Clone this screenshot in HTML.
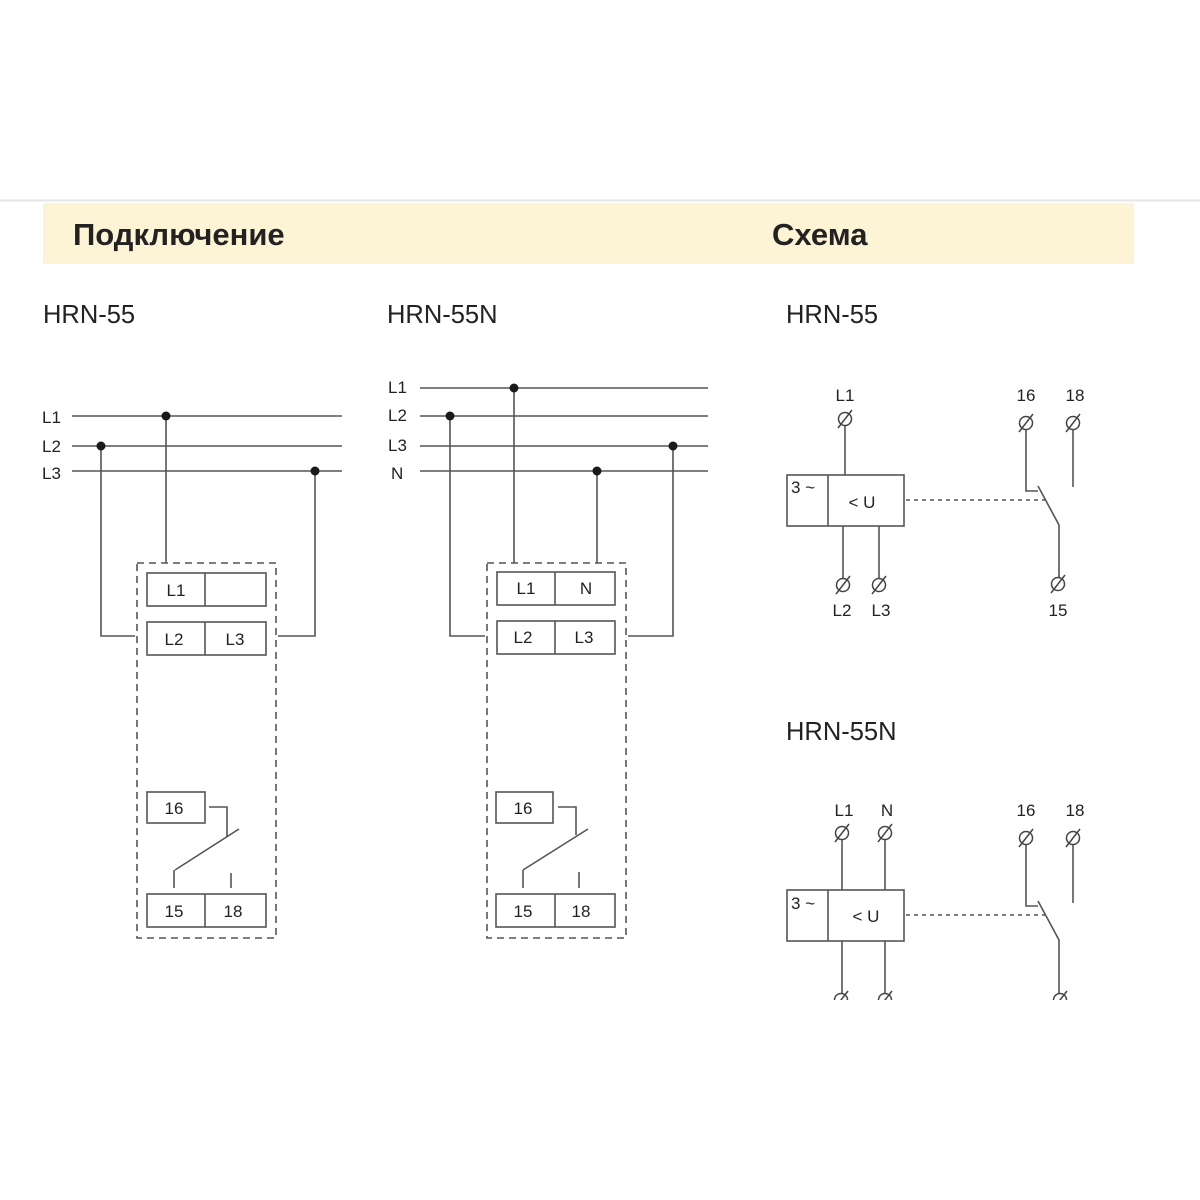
<!DOCTYPE html>
<html><head><meta charset="utf-8"><style>
html,body{margin:0;padding:0;background:#fff;width:1200px;height:1200px;overflow:hidden}
svg{display:block}
text{font-family:"Liberation Sans","DejaVu Sans",sans-serif;fill:#222}
</style></head><body>
<svg width="1200" height="1200" viewBox="0 0 1200 1200" xmlns="http://www.w3.org/2000/svg">
<defs>
<g id="term"><circle cx="0" cy="0" r="6.5" fill="#fff" stroke="#444" stroke-width="1.5"/><line x1="-7" y1="9" x2="7" y2="-9" stroke="#444" stroke-width="1.5"/></g>
</defs>
<line x1="0" y1="200.5" x2="1200" y2="200.5" stroke="#e6e6e6" stroke-width="2"/>
<rect x="43" y="203" width="1091" height="61" fill="#fdf4d6"/>
<text x="73" y="245" font-size="31" font-weight="bold" fill="#222">Подключение</text>
<text x="772" y="245" font-size="31" font-weight="bold" fill="#222">Схема</text>
<text x="43" y="323" font-size="25.5">HRN-55</text>
<text x="387" y="323" font-size="25.5">HRN-55N</text>
<text x="786" y="323" font-size="25.5">HRN-55</text>
<text x="786" y="740" font-size="25.5">HRN-55N</text>

<g stroke="#555" stroke-width="1.6" fill="none">
<line x1="72" y1="416" x2="342" y2="416"/>
<line x1="72" y1="446" x2="342" y2="446"/>
<line x1="72" y1="471" x2="342" y2="471"/>
<line x1="166" y1="416" x2="166" y2="563"/>
<polyline points="101,446 101,636 135,636"/>
<polyline points="315,471 315,636 278,636"/>
<rect x="137" y="563" width="139" height="375" stroke-dasharray="7,5"/>
<rect x="147" y="573" width="119" height="33"/><line x1="205" y1="573" x2="205" y2="606"/>
<rect x="147" y="622" width="119" height="33"/><line x1="205" y1="622" x2="205" y2="655"/>
<rect x="147" y="792" width="58" height="31"/>
<polyline points="209,807 227,807 227,837"/>
<line x1="175" y1="870" x2="239" y2="829"/>
<line x1="174" y1="870" x2="174" y2="888"/>
<line x1="231" y1="873" x2="231" y2="888"/>
<rect x="147" y="894" width="119" height="33"/><line x1="205" y1="894" x2="205" y2="927"/>

<line x1="420" y1="388" x2="708" y2="388"/>
<line x1="420" y1="416" x2="708" y2="416"/>
<line x1="420" y1="446" x2="708" y2="446"/>
<line x1="420" y1="471" x2="708" y2="471"/>
<line x1="514" y1="388" x2="514" y2="563"/>
<line x1="597" y1="471" x2="597" y2="563"/>
<polyline points="450,416 450,636 485,636"/>
<polyline points="673,446 673,636 628,636"/>
<rect x="487" y="563" width="139" height="375" stroke-dasharray="7,5"/>
<rect x="497" y="572" width="118" height="33"/><line x1="555" y1="572" x2="555" y2="605"/>
<rect x="497" y="621" width="118" height="33"/><line x1="555" y1="621" x2="555" y2="654"/>
<rect x="496" y="792" width="57" height="31"/>
<polyline points="558,807 576,807 576,835"/>
<line x1="523" y1="870" x2="588" y2="829"/>
<line x1="523" y1="870" x2="523" y2="888"/>
<line x1="579" y1="872" x2="579" y2="888"/>
<rect x="496" y="894" width="119" height="33"/><line x1="555" y1="894" x2="555" y2="927"/>

<rect x="787" y="475" width="117" height="51"/><line x1="828" y1="475" x2="828" y2="526"/>
<line x1="845" y1="425" x2="845" y2="475"/>
<line x1="843" y1="526" x2="843" y2="579"/>
<line x1="879" y1="526" x2="879" y2="579"/>
<polyline points="1026,429 1026,491 1038,491"/>
<line x1="1073" y1="429" x2="1073" y2="487"/>
<polyline points="1038,486 1059,525 1059,578"/>
<line x1="906" y1="500" x2="1045" y2="500" stroke-dasharray="4,4"/>

<rect x="787" y="890" width="117" height="51"/><line x1="828" y1="890" x2="828" y2="941"/>
<line x1="842" y1="839" x2="842" y2="890"/>
<line x1="885" y1="839" x2="885" y2="890"/>
<line x1="842" y1="941" x2="842" y2="995"/>
<line x1="885" y1="941" x2="885" y2="995"/>
<polyline points="1026,844 1026,906 1038,906"/>
<line x1="1073" y1="844" x2="1073" y2="903"/>
<polyline points="1038,901 1059,940 1059,995"/>
<line x1="906" y1="915" x2="1045" y2="915" stroke-dasharray="4,4"/>
</g>

<g fill="#1a1a1a">
<circle cx="166" cy="416" r="4.5"/><circle cx="101" cy="446" r="4.5"/><circle cx="315" cy="471" r="4.5"/>
<circle cx="514" cy="388" r="4.5"/><circle cx="450" cy="416" r="4.5"/><circle cx="673" cy="446" r="4.5"/><circle cx="597" cy="471" r="4.5"/>
</g>

<use href="#term" x="845" y="419"/>
<use href="#term" x="843" y="585"/>
<use href="#term" x="879" y="585"/>
<use href="#term" x="1026" y="423"/>
<use href="#term" x="1073" y="423"/>
<use href="#term" x="1058" y="584"/>
<use href="#term" x="842" y="833"/>
<use href="#term" x="885" y="833"/>
<use href="#term" x="1026" y="838"/>
<use href="#term" x="1073" y="838"/>
<svg x="0" y="0" width="1200" height="1000" overflow="hidden">
<use href="#term" x="841" y="1000"/>
<use href="#term" x="885" y="1000"/>
<use href="#term" x="1060" y="1000"/>
</svg>
<rect x="780" y="1000" width="330" height="20" fill="#fff"/>

<g font-size="17">
<text x="42" y="423">L1</text><text x="42" y="452">L2</text><text x="42" y="479">L3</text>
<text x="388" y="393">L1</text><text x="388" y="421">L2</text><text x="388" y="451">L3</text><text x="391" y="479">N</text>
<text x="176" y="596" text-anchor="middle">L1</text>
<text x="174" y="645" text-anchor="middle">L2</text><text x="235" y="645" text-anchor="middle">L3</text>
<text x="174" y="814" text-anchor="middle">16</text>
<text x="174" y="917" text-anchor="middle">15</text><text x="233" y="917" text-anchor="middle">18</text>
<text x="526" y="594" text-anchor="middle">L1</text><text x="586" y="594" text-anchor="middle">N</text>
<text x="523" y="643" text-anchor="middle">L2</text><text x="584" y="643" text-anchor="middle">L3</text>
<text x="523" y="814" text-anchor="middle">16</text>
<text x="523" y="917" text-anchor="middle">15</text><text x="581" y="917" text-anchor="middle">18</text>
<text x="845" y="401" text-anchor="middle">L1</text>
<text x="1026" y="401" text-anchor="middle">16</text><text x="1075" y="401" text-anchor="middle">18</text>
<text x="842" y="616" text-anchor="middle">L2</text><text x="881" y="616" text-anchor="middle">L3</text>
<text x="1058" y="616" text-anchor="middle">15</text>
<text x="791" y="493">3 ~</text>
<text x="862" y="508" text-anchor="middle">&lt; U</text>
<text x="844" y="816" text-anchor="middle">L1</text><text x="887" y="816" text-anchor="middle">N</text>
<text x="1026" y="816" text-anchor="middle">16</text><text x="1075" y="816" text-anchor="middle">18</text>
<text x="791" y="909">3 ~</text>
<text x="866" y="922" text-anchor="middle">&lt; U</text>
</g>
</svg>
</body></html>
